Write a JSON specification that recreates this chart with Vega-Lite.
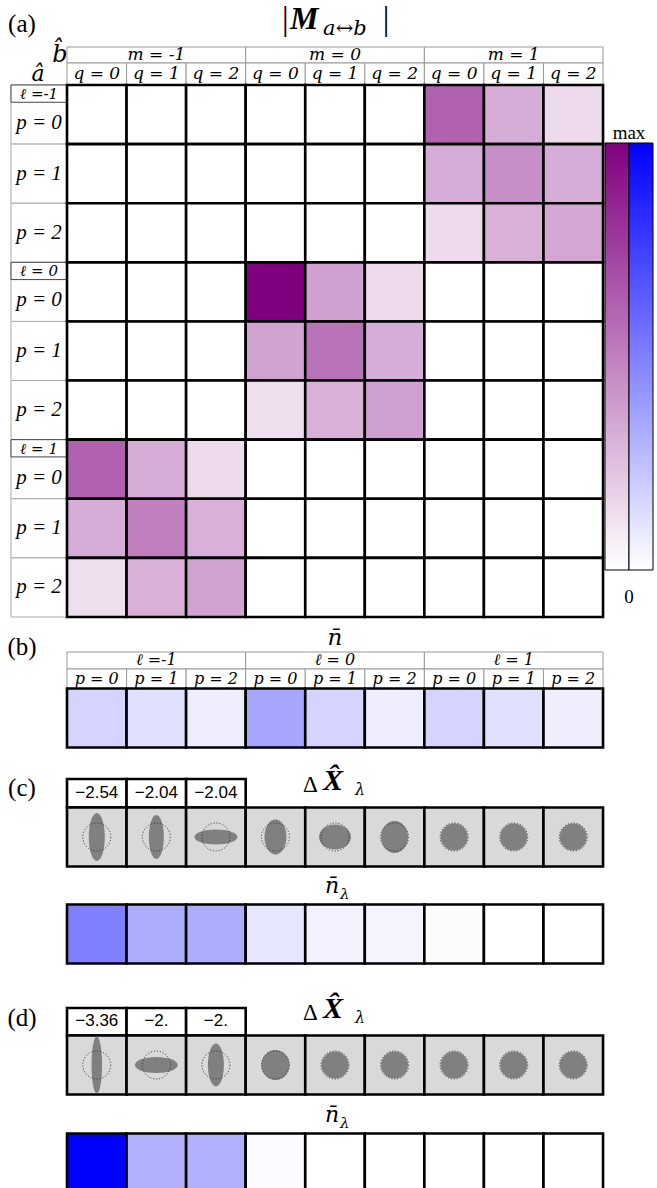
{
  "$schema": "https://vega.github.io/schema/vega-lite/v6.json",
  "padding": 0,
  "spacing": 0,
  "bounds": "flush",
  "data": {"values": [{}]},
  "config": {
    "view": {"stroke": null},
    "axis": {"disable": true},
    "text": {"font": "Liberation Serif", "color": "#000000"}
  },
  "resolve": {"scale": {"x": "independent", "y": "independent", "fill": "independent", "shape": "independent"}},
  "datasets": {
    "cellsA": [
      {"r":0,"c":0,"v":0},{"r":0,"c":1,"v":0},{"r":0,"c":2,"v":0},{"r":0,"c":3,"v":0},{"r":0,"c":4,"v":0},{"r":0,"c":5,"v":0},{"r":0,"c":6,"v":0.62},{"r":0,"c":7,"v":0.32},{"r":0,"c":8,"v":0.14},
      {"r":1,"c":0,"v":0},{"r":1,"c":1,"v":0},{"r":1,"c":2,"v":0},{"r":1,"c":3,"v":0},{"r":1,"c":4,"v":0},{"r":1,"c":5,"v":0},{"r":1,"c":6,"v":0.32},{"r":1,"c":7,"v":0.44},{"r":1,"c":8,"v":0.32},
      {"r":2,"c":0,"v":0},{"r":2,"c":1,"v":0},{"r":2,"c":2,"v":0},{"r":2,"c":3,"v":0},{"r":2,"c":4,"v":0},{"r":2,"c":5,"v":0},{"r":2,"c":6,"v":0.14},{"r":2,"c":7,"v":0.31},{"r":2,"c":8,"v":0.35},
      {"r":3,"c":0,"v":0},{"r":3,"c":1,"v":0},{"r":3,"c":2,"v":0},{"r":3,"c":3,"v":1.0},{"r":3,"c":4,"v":0.37},{"r":3,"c":5,"v":0.14},{"r":3,"c":6,"v":0},{"r":3,"c":7,"v":0},{"r":3,"c":8,"v":0},
      {"r":4,"c":0,"v":0},{"r":4,"c":1,"v":0},{"r":4,"c":2,"v":0},{"r":4,"c":3,"v":0.36},{"r":4,"c":4,"v":0.55},{"r":4,"c":5,"v":0.32},{"r":4,"c":6,"v":0},{"r":4,"c":7,"v":0},{"r":4,"c":8,"v":0},
      {"r":5,"c":0,"v":0},{"r":5,"c":1,"v":0},{"r":5,"c":2,"v":0},{"r":5,"c":3,"v":0.13},{"r":5,"c":4,"v":0.31},{"r":5,"c":5,"v":0.37},{"r":5,"c":6,"v":0},{"r":5,"c":7,"v":0},{"r":5,"c":8,"v":0},
      {"r":6,"c":0,"v":0.62},{"r":6,"c":1,"v":0.32},{"r":6,"c":2,"v":0.14},{"r":6,"c":3,"v":0},{"r":6,"c":4,"v":0},{"r":6,"c":5,"v":0},{"r":6,"c":6,"v":0},{"r":6,"c":7,"v":0},{"r":6,"c":8,"v":0},
      {"r":7,"c":0,"v":0.32},{"r":7,"c":1,"v":0.5},{"r":7,"c":2,"v":0.31},{"r":7,"c":3,"v":0},{"r":7,"c":4,"v":0},{"r":7,"c":5,"v":0},{"r":7,"c":6,"v":0},{"r":7,"c":7,"v":0},{"r":7,"c":8,"v":0},
      {"r":8,"c":0,"v":0.13},{"r":8,"c":1,"v":0.31},{"r":8,"c":2,"v":0.36},{"r":8,"c":3,"v":0},{"r":8,"c":4,"v":0},{"r":8,"c":5,"v":0},{"r":8,"c":6,"v":0},{"r":8,"c":7,"v":0},{"r":8,"c":8,"v":0}
    ],
    "mHead": [{"c":1,"t":"m = -1"},{"c":4,"t":"m = 0"},{"c":7,"t":"m = 1"}],
    "qHead": [{"c":0,"t":"q = 0"},{"c":1,"t":"q = 1"},{"c":2,"t":"q = 2"},{"c":3,"t":"q = 0"},{"c":4,"t":"q = 1"},{"c":5,"t":"q = 2"},{"c":6,"t":"q = 0"},{"c":7,"t":"q = 1"},{"c":8,"t":"q = 2"}],
    "rowsA": [{"r":0},{"r":1},{"r":2},{"r":3},{"r":4},{"r":5},{"r":6},{"r":7},{"r":8}],
    "lRows": [{"r":0,"t":"ℓ =-1"},{"r":3,"t":"ℓ = 0"},{"r":6,"t":"ℓ = 1"}],
    "pTop": [{"r":0,"t":"p = 0"},{"r":3,"t":"p = 0"},{"r":6,"t":"p = 0"}],
    "pRest": [{"r":1,"t":"p = 1"},{"r":2,"t":"p = 2"},{"r":4,"t":"p = 1"},{"r":5,"t":"p = 2"},{"r":7,"t":"p = 1"},{"r":8,"t":"p = 2"}],
    "lHead": [{"c":1,"t":"ℓ =-1"},{"c":4,"t":"ℓ = 0"},{"c":7,"t":"ℓ = 1"}],
    "pHead": [{"c":0,"t":"p = 0"},{"c":1,"t":"p = 1"},{"c":2,"t":"p = 2"},{"c":3,"t":"p = 0"},{"c":4,"t":"p = 1"},{"c":5,"t":"p = 2"},{"c":6,"t":"p = 0"},{"c":7,"t":"p = 1"},{"c":8,"t":"p = 2"}],
    "nbar": [{"c":0,"v":0.17},{"c":1,"v":0.12},{"c":2,"v":0.065},{"c":3,"v":0.35},{"c":4,"v":0.17},{"c":5,"v":0.065},{"c":6,"v":0.17},{"c":7,"v":0.12},{"c":8,"v":0.065}],
    "labC": [{"c":0,"t":"−2.54"},{"c":1,"t":"−2.04"},{"c":2,"t":"−2.04"}],
    "ellC": [{"c":0,"e":"c0"},{"c":1,"e":"c1"},{"c":2,"e":"c2"},{"c":3,"e":"c3"},{"c":4,"e":"c4"},{"c":5,"e":"c5"},{"c":6,"e":"c6"},{"c":7,"e":"c7"},{"c":8,"e":"c8"}],
    "nC": [{"c":0,"v":0.5},{"c":1,"v":0.32},{"c":2,"v":0.32},{"c":3,"v":0.1},{"c":4,"v":0.05},{"c":5,"v":0.045},{"c":6,"v":0.01},{"c":7,"v":0},{"c":8,"v":0}],
    "labD": [{"c":0,"t":"−3.36"},{"c":1,"t":"−2."},{"c":2,"t":"−2."}],
    "ellD": [{"c":0,"e":"d0"},{"c":1,"e":"d1"},{"c":2,"e":"d2"},{"c":3,"e":"d3"},{"c":4,"e":"d4"},{"c":5,"e":"d5"},{"c":6,"e":"d6"},{"c":7,"e":"d7"},{"c":8,"e":"d8"}],
    "nD": [{"c":0,"v":1.0},{"c":1,"v":0.31},{"c":2,"v":0.31},{"c":3,"v":0.02},{"c":4,"v":0},{"c":5,"v":0},{"c":6,"v":0},{"c":7,"v":0},{"c":8,"v":0}]
  },
  "vconcat": [
    {
      "width": 657, "height": 618,
      "layer": [
        {"mark": {"type": "text", "text": "(a)", "font": "Liberation Serif", "fontSize": 25, "align": "center", "baseline": "middle"},
         "encoding": {"x": {"datum": -1.256, "type": "quantitative", "scale": {"domain": [-1.625, 9.406], "nice": false, "zero": false}},
                      "y": {"datum": -1.532, "type": "quantitative", "scale": {"domain": [-1.938, 8.517], "nice": false, "zero": false, "reverse": true}}}},
        {"mark": {"type": "text", "text": "|", "font": "Liberation Serif", "fontSize": 33, "align": "left", "baseline": "alphabetic"},
         "encoding": {"x": {"datum": 3.11, "type": "quantitative"}, "y": {"datum": -1.43, "type": "quantitative"}}},
        {"mark": {"type": "text", "text": "M", "font": "Liberation Serif", "fontSize": 32, "fontWeight": "bold", "fontStyle": "italic", "align": "left", "baseline": "alphabetic"},
         "encoding": {"x": {"datum": 3.244, "type": "quantitative"}, "y": {"datum": -1.4475, "type": "quantitative"}}},
        {"mark": {"type": "text", "text": "a↔b", "font": "DejaVu Serif", "fontSize": 21, "fontStyle": "italic", "align": "left", "baseline": "alphabetic"},
         "encoding": {"x": {"datum": 3.80, "type": "quantitative"}, "y": {"datum": -1.346, "type": "quantitative"}}},
        {"mark": {"type": "text", "text": "|", "font": "Liberation Serif", "fontSize": 33, "align": "left", "baseline": "alphabetic"},
         "encoding": {"x": {"datum": 4.80, "type": "quantitative"}, "y": {"datum": -1.43, "type": "quantitative"}}},
        {"mark": {"type": "text", "text": "b̂", "font": "DejaVu Serif", "fontSize": 24, "fontStyle": "italic", "align": "center", "baseline": "alphabetic"},
         "encoding": {"x": {"datum": -0.618, "type": "quantitative"}, "y": {"datum": -0.889, "type": "quantitative"}}},
        {"mark": {"type": "text", "text": "â", "font": "DejaVu Serif", "fontSize": 22, "fontStyle": "italic", "align": "center", "baseline": "alphabetic"},
         "encoding": {"x": {"datum": -0.987, "type": "quantitative"}, "y": {"datum": -0.575, "type": "quantitative"}}},
        {"data": {"name": "mHead"},
         "mark": {"type": "rect", "fill": "#ffffff", "stroke": "#999999", "strokeWidth": 1, "xOffset": -89.34, "x2Offset": 89.34},
         "encoding": {"x": {"field": "c", "type": "quantitative"}, "x2": {"field": "c"},
                      "y": {"datum": -1.143, "type": "quantitative"}, "y2": {"datum": -0.872}}},
        {"data": {"name": "mHead"},
         "mark": {"type": "text", "font": "DejaVu Serif", "fontSize": 17, "fontStyle": "italic", "align": "center", "baseline": "middle"},
         "encoding": {"x": {"field": "c", "type": "quantitative"}, "y": {"datum": -1.008, "type": "quantitative"}, "text": {"field": "t"}}},
        {"data": {"name": "qHead"},
         "mark": {"type": "rect", "fill": "#ffffff", "stroke": "#999999", "strokeWidth": 1, "xOffset": -29.78, "x2Offset": 29.78},
         "encoding": {"x": {"field": "c", "type": "quantitative"}, "x2": {"field": "c"},
                      "y": {"datum": -0.872, "type": "quantitative"}, "y2": {"datum": -0.5}}},
        {"data": {"name": "qHead"},
         "mark": {"type": "text", "font": "DejaVu Serif", "fontSize": 17, "fontStyle": "italic", "align": "center", "baseline": "middle"},
         "encoding": {"x": {"field": "c", "type": "quantitative"}, "y": {"datum": -0.686, "type": "quantitative"}, "text": {"field": "t"}}},
        {"data": {"name": "rowsA"},
         "mark": {"type": "rect", "fill": "#ffffff", "stroke": "#aaaaaa", "strokeWidth": 1, "yOffset": -29.56, "y2Offset": 29.56},
         "encoding": {"x": {"datum": -1.44, "type": "quantitative"}, "x2": {"datum": -0.5},
                      "y": {"field": "r", "type": "quantitative"}, "y2": {"field": "r"}}},
        {"data": {"name": "lRows"},
         "mark": {"type": "rect", "fill": "#ffffff", "stroke": "#444444", "strokeWidth": 1, "yOffset": -29.56, "y2Offset": -12.3},
         "encoding": {"x": {"datum": -1.44, "type": "quantitative"}, "x2": {"datum": -0.5},
                      "y": {"field": "r", "type": "quantitative"}, "y2": {"field": "r"}}},
        {"data": {"name": "lRows"},
         "mark": {"type": "text", "font": "DejaVu Serif", "fontSize": 15, "fontStyle": "italic", "align": "center", "baseline": "middle", "dy": -20.5},
         "encoding": {"x": {"datum": -0.97, "type": "quantitative"}, "y": {"field": "r", "type": "quantitative"}, "text": {"field": "t"}}},
        {"data": {"name": "pTop"},
         "mark": {"type": "text", "font": "Liberation Serif", "fontSize": 21, "fontStyle": "italic", "align": "center", "baseline": "middle", "dy": 8.5},
         "encoding": {"x": {"datum": -0.97, "type": "quantitative"}, "y": {"field": "r", "type": "quantitative"}, "text": {"field": "t"}}},
        {"data": {"name": "pRest"},
         "mark": {"type": "text", "font": "Liberation Serif", "fontSize": 21, "fontStyle": "italic", "align": "center", "baseline": "middle"},
         "encoding": {"x": {"datum": -0.97, "type": "quantitative"}, "y": {"field": "r", "type": "quantitative"}, "text": {"field": "t"}}},
        {"data": {"name": "cellsA"},
         "mark": {"type": "rect", "stroke": "#000000", "strokeWidth": 2.6, "xOffset": -29.78, "x2Offset": 29.78, "yOffset": -29.56, "y2Offset": 29.56},
         "encoding": {"x": {"field": "c", "type": "quantitative"}, "x2": {"field": "c"},
                      "y": {"field": "r", "type": "quantitative"}, "y2": {"field": "r"},
                      "fill": {"field": "v", "type": "quantitative", "scale": {"domain": [0, 1], "range": ["#ffffff", "#800080"], "interpolate": "rgb"}, "legend": null}}},
        {"mark": {"type": "rect", "stroke": "#000000", "strokeWidth": 1,
                  "fill": {"gradient": "linear", "x1": 0, "y1": 1, "x2": 0, "y2": 0, "stops": [{"offset": 0, "color": "#ffffff"}, {"offset": 1, "color": "#800080"}]}},
         "encoding": {"x": {"datum": 8.533, "type": "quantitative"}, "x2": {"datum": 8.936}, "y": {"datum": 0.481, "type": "quantitative"}, "y2": {"datum": 7.705}}},
        {"mark": {"type": "rect", "stroke": "#000000", "strokeWidth": 1,
                  "fill": {"gradient": "linear", "x1": 0, "y1": 1, "x2": 0, "y2": 0, "stops": [{"offset": 0, "color": "#ffffff"}, {"offset": 1, "color": "#0000ff"}]}},
         "encoding": {"x": {"datum": 8.936, "type": "quantitative"}, "x2": {"datum": 9.339}, "y": {"datum": 0.481, "type": "quantitative"}, "y2": {"datum": 7.705}}},
        {"mark": {"type": "text", "text": "max", "font": "Liberation Serif", "fontSize": 19, "align": "center", "baseline": "middle"},
         "encoding": {"x": {"datum": 8.936, "type": "quantitative"}, "y": {"datum": 0.312, "type": "quantitative"}}},
        {"mark": {"type": "text", "text": "0", "font": "Liberation Serif", "fontSize": 19, "align": "center", "baseline": "middle"},
         "encoding": {"x": {"datum": 8.936, "type": "quantitative"}, "y": {"datum": 8.162, "type": "quantitative"}}}
      ]
    },
    {
      "width": 657, "height": 142,
      "layer": [
        {"mark": {"type": "text", "text": "(b)", "font": "Liberation Serif", "fontSize": 25, "align": "center", "baseline": "middle"},
         "encoding": {"x": {"datum": -1.256, "type": "quantitative", "scale": {"domain": [-1.625, 9.406], "nice": false, "zero": false}},
                      "y": {"datum": -1.201, "type": "quantitative", "scale": {"domain": [-1.6918, 0.7105], "nice": false, "zero": false, "reverse": true}}}},
        {"mark": {"type": "text", "text": "n̄", "font": "DejaVu Serif", "fontSize": 23, "fontStyle": "italic", "align": "center", "baseline": "alphabetic"},
         "encoding": {"x": {"datum": 4.0, "type": "quantitative"}, "y": {"datum": -1.235, "type": "quantitative"}}},
        {"data": {"name": "lHead"},
         "mark": {"type": "rect", "fill": "#ffffff", "stroke": "#999999", "strokeWidth": 1, "xOffset": -89.34, "x2Offset": 89.34},
         "encoding": {"x": {"field": "c", "type": "quantitative"}, "x2": {"field": "c"},
                      "y": {"datum": -1.1166, "type": "quantitative"}, "y2": {"datum": -0.829}}},
        {"data": {"name": "lHead"},
         "mark": {"type": "text", "font": "DejaVu Serif", "fontSize": 16, "fontStyle": "italic", "align": "center", "baseline": "middle"},
         "encoding": {"x": {"field": "c", "type": "quantitative"}, "y": {"datum": -0.973, "type": "quantitative"}, "text": {"field": "t"}}},
        {"data": {"name": "pHead"},
         "mark": {"type": "rect", "fill": "#ffffff", "stroke": "#999999", "strokeWidth": 1, "xOffset": -29.78, "x2Offset": 29.78},
         "encoding": {"x": {"field": "c", "type": "quantitative"}, "x2": {"field": "c"},
                      "y": {"datum": -0.829, "type": "quantitative"}, "y2": {"datum": -0.5}}},
        {"data": {"name": "pHead"},
         "mark": {"type": "text", "font": "DejaVu Serif", "fontSize": 16, "fontStyle": "italic", "align": "center", "baseline": "middle"},
         "encoding": {"x": {"field": "c", "type": "quantitative"}, "y": {"datum": -0.668, "type": "quantitative"}, "text": {"field": "t"}}},
        {"data": {"name": "nbar"},
         "mark": {"type": "rect", "stroke": "#000000", "strokeWidth": 2.6, "xOffset": -29.78, "x2Offset": 29.78},
         "encoding": {"x": {"field": "c", "type": "quantitative"}, "x2": {"field": "c"},
                      "y": {"datum": -0.5, "type": "quantitative"}, "y2": {"datum": 0.5},
                      "fill": {"field": "v", "type": "quantitative", "scale": {"domain": [0, 1], "range": ["#ffffff", "#0000ff"], "interpolate": "rgb"}, "legend": null}}}
      ]
    },
    {
      "width": 657, "height": 112,
      "layer": [
        {"mark": {"type": "text", "text": "(c)", "font": "Liberation Serif", "fontSize": 25, "align": "center", "baseline": "middle"},
         "encoding": {"x": {"datum": -1.256, "type": "quantitative", "scale": {"domain": [-1.625, 9.406], "nice": false, "zero": false}},
                      "y": {"datum": -0.829, "type": "quantitative", "scale": {"domain": [-1.3027, 0.5921], "nice": false, "zero": false, "reverse": true}}}},
        {"mark": {"type": "text", "text": "Δ", "font": "Liberation Serif", "fontSize": 23, "align": "left", "baseline": "alphabetic"},
         "encoding": {"x": {"datum": 3.462, "type": "quantitative"}, "y": {"datum": -0.761, "type": "quantitative"}}},
        {"mark": {"type": "text", "text": "X̂", "font": "Liberation Serif", "fontSize": 30, "fontWeight": "bold", "fontStyle": "italic", "align": "left", "baseline": "alphabetic"},
         "encoding": {"x": {"datum": 3.798, "type": "quantitative"}, "y": {"datum": -0.795, "type": "quantitative"}}},
        {"mark": {"type": "text", "text": "λ", "font": "DejaVu Serif", "fontSize": 16, "fontStyle": "italic", "align": "left", "baseline": "alphabetic"},
         "encoding": {"x": {"datum": 4.335, "type": "quantitative"}, "y": {"datum": -0.711, "type": "quantitative"}}},
        {"data": {"name": "labC"},
         "mark": {"type": "rect", "fill": "#ffffff", "stroke": "#000000", "strokeWidth": 2.6, "xOffset": -29.78, "x2Offset": 29.78},
         "encoding": {"x": {"field": "c", "type": "quantitative"}, "x2": {"field": "c"},
                      "y": {"datum": -0.981, "type": "quantitative"}, "y2": {"datum": -0.5}}},
        {"data": {"name": "labC"},
         "mark": {"type": "text", "font": "Liberation Sans", "fontSize": 17, "align": "center", "baseline": "middle"},
         "encoding": {"x": {"field": "c", "type": "quantitative"}, "y": {"datum": -0.744, "type": "quantitative"}, "text": {"field": "t"}}},
        {"data": {"name": "ellC"},
         "mark": {"type": "rect", "fill": "#d9d9d9", "stroke": "#000000", "strokeWidth": 2.6, "xOffset": -29.78, "x2Offset": 29.78},
         "encoding": {"x": {"field": "c", "type": "quantitative"}, "x2": {"field": "c"},
                      "y": {"datum": -0.5, "type": "quantitative"}, "y2": {"datum": 0.5}}},
        {"data": {"name": "ellC"},
         "mark": {"type": "point", "filled": true, "fill": "#808080", "opacity": 1, "size": 3600, "strokeWidth": 0},
         "encoding": {"x": {"field": "c", "type": "quantitative"}, "y": {"datum": 0, "type": "quantitative"},
                      "shape": {"field": "e", "type": "nominal", "legend": null,
                                "scale": {"domain": ["c0","c1","c2","c3","c4","c5","c6","c7","c8"],
                                          "range": ["M-0.267,0A0.267,0.8,0,1,1,0.267,0A0.267,0.8,0,1,1,-0.267,0Z",
                                                    "M-0.25,0A0.25,0.733,0,1,1,0.25,0A0.25,0.733,0,1,1,-0.25,0Z",
                                                    "M-0.717,0A0.717,0.25,0,1,1,0.717,0A0.717,0.25,0,1,1,-0.717,0Z",
                                                    "M-0.367,0A0.367,0.583,0,1,1,0.367,0A0.367,0.583,0,1,1,-0.367,0Z",
                                                    "M-0.533,0A0.533,0.417,0,1,1,0.533,0A0.533,0.417,0,1,1,-0.533,0Z",
                                                    "M-0.45,0A0.45,0.533,0,1,1,0.45,0A0.45,0.533,0,1,1,-0.45,0Z",
                                                    "M-0.45,0A0.45,0.45,0,1,1,0.45,0A0.45,0.45,0,1,1,-0.45,0Z",
                                                    "M-0.45,0A0.45,0.45,0,1,1,0.45,0A0.45,0.45,0,1,1,-0.45,0Z",
                                                    "M-0.45,0A0.45,0.45,0,1,1,0.45,0A0.45,0.45,0,1,1,-0.45,0Z"]}}}},
        {"data": {"name": "ellC"},
         "mark": {"type": "point", "shape": "circle", "filled": false, "stroke": "#333333", "strokeWidth": 0.9, "strokeDash": [1.2, 1.8], "opacity": 1, "size": 784},
         "encoding": {"x": {"field": "c", "type": "quantitative"}, "y": {"datum": 0, "type": "quantitative"}}}
      ]
    },
    {
      "width": 657, "height": 113,
      "layer": [
        {"mark": {"type": "text", "text": "n̄", "font": "DejaVu Serif", "fontSize": 22, "fontStyle": "italic", "align": "left", "baseline": "alphabetic"},
         "encoding": {"x": {"datum": 3.832, "type": "quantitative", "scale": {"domain": [-1.625, 9.406], "nice": false, "zero": false}},
                      "y": {"datum": -0.694, "type": "quantitative", "scale": {"domain": [-1.0489, 0.8628], "nice": false, "zero": false, "reverse": true}}}},
        {"mark": {"type": "text", "text": "λ", "font": "DejaVu Serif", "fontSize": 15, "fontStyle": "italic", "align": "left", "baseline": "alphabetic"},
         "encoding": {"x": {"datum": 4.085, "type": "quantitative"}, "y": {"datum": -0.592, "type": "quantitative"}}},
        {"data": {"name": "nC"},
         "mark": {"type": "rect", "stroke": "#000000", "strokeWidth": 2.6, "xOffset": -29.78, "x2Offset": 29.78},
         "encoding": {"x": {"field": "c", "type": "quantitative"}, "x2": {"field": "c"},
                      "y": {"datum": -0.5, "type": "quantitative"}, "y2": {"datum": 0.5},
                      "fill": {"field": "v", "type": "quantitative", "scale": {"domain": [0, 1], "range": ["#ffffff", "#0000ff"], "interpolate": "rgb"}, "legend": null}}}
      ]
    },
    {
      "width": 657, "height": 113,
      "layer": [
        {"mark": {"type": "text", "text": "(d)", "font": "Liberation Serif", "fontSize": 25, "align": "center", "baseline": "middle"},
         "encoding": {"x": {"datum": -1.256, "type": "quantitative", "scale": {"domain": [-1.625, 9.406], "nice": false, "zero": false}},
                      "y": {"datum": -0.795, "type": "quantitative", "scale": {"domain": [-1.3534, 0.5583], "nice": false, "zero": false, "reverse": true}}}},
        {"mark": {"type": "text", "text": "Δ", "font": "Liberation Serif", "fontSize": 23, "align": "left", "baseline": "alphabetic"},
         "encoding": {"x": {"datum": 3.462, "type": "quantitative"}, "y": {"datum": -0.761, "type": "quantitative"}}},
        {"mark": {"type": "text", "text": "X̂", "font": "Liberation Serif", "fontSize": 30, "fontWeight": "bold", "fontStyle": "italic", "align": "left", "baseline": "alphabetic"},
         "encoding": {"x": {"datum": 3.798, "type": "quantitative"}, "y": {"datum": -0.795, "type": "quantitative"}}},
        {"mark": {"type": "text", "text": "λ", "font": "DejaVu Serif", "fontSize": 16, "fontStyle": "italic", "align": "left", "baseline": "alphabetic"},
         "encoding": {"x": {"datum": 4.335, "type": "quantitative"}, "y": {"datum": -0.711, "type": "quantitative"}}},
        {"data": {"name": "labD"},
         "mark": {"type": "rect", "fill": "#ffffff", "stroke": "#000000", "strokeWidth": 2.6, "xOffset": -29.78, "x2Offset": 29.78},
         "encoding": {"x": {"field": "c", "type": "quantitative"}, "x2": {"field": "c"},
                      "y": {"datum": -0.964, "type": "quantitative"}, "y2": {"datum": -0.5}}},
        {"data": {"name": "labD"},
         "mark": {"type": "text", "font": "Liberation Sans", "fontSize": 17, "align": "center", "baseline": "middle"},
         "encoding": {"x": {"field": "c", "type": "quantitative"}, "y": {"datum": -0.744, "type": "quantitative"}, "text": {"field": "t"}}},
        {"data": {"name": "ellD"},
         "mark": {"type": "rect", "fill": "#d9d9d9", "stroke": "#000000", "strokeWidth": 2.6, "xOffset": -29.78, "x2Offset": 29.78},
         "encoding": {"x": {"field": "c", "type": "quantitative"}, "x2": {"field": "c"},
                      "y": {"datum": -0.5, "type": "quantitative"}, "y2": {"datum": 0.5}}},
        {"data": {"name": "ellD"},
         "mark": {"type": "point", "filled": true, "fill": "#808080", "opacity": 1, "size": 3600, "strokeWidth": 0},
         "encoding": {"x": {"field": "c", "type": "quantitative"}, "y": {"datum": 0, "type": "quantitative"},
                      "shape": {"field": "e", "type": "nominal", "legend": null,
                                "scale": {"domain": ["d0","d1","d2","d3","d4","d5","d6","d7","d8"],
                                          "range": ["M-0.175,0A0.175,0.95,0,1,1,0.175,0A0.175,0.95,0,1,1,-0.175,0Z",
                                                    "M-0.717,0A0.717,0.267,0,1,1,0.717,0A0.717,0.267,0,1,1,-0.717,0Z",
                                                    "M-0.267,0A0.267,0.717,0,1,1,0.267,0A0.267,0.717,0,1,1,-0.267,0Z",
                                                    "M-0.467,0A0.467,0.5,0,1,1,0.467,0A0.467,0.5,0,1,1,-0.467,0Z",
                                                    "M-0.45,0A0.45,0.45,0,1,1,0.45,0A0.45,0.45,0,1,1,-0.45,0Z",
                                                    "M-0.45,0A0.45,0.45,0,1,1,0.45,0A0.45,0.45,0,1,1,-0.45,0Z",
                                                    "M-0.45,0A0.45,0.45,0,1,1,0.45,0A0.45,0.45,0,1,1,-0.45,0Z",
                                                    "M-0.45,0A0.45,0.45,0,1,1,0.45,0A0.45,0.45,0,1,1,-0.45,0Z",
                                                    "M-0.45,0A0.45,0.45,0,1,1,0.45,0A0.45,0.45,0,1,1,-0.45,0Z"]}}}},
        {"data": {"name": "ellD"},
         "mark": {"type": "point", "shape": "circle", "filled": false, "stroke": "#333333", "strokeWidth": 0.9, "strokeDash": [1.2, 1.8], "opacity": 1, "size": 784},
         "encoding": {"x": {"field": "c", "type": "quantitative"}, "y": {"datum": 0, "type": "quantitative"}}}
      ]
    },
    {
      "width": 657, "height": 97,
      "layer": [
        {"mark": {"type": "text", "text": "n̄", "font": "DejaVu Serif", "fontSize": 22, "fontStyle": "italic", "align": "left", "baseline": "alphabetic"},
         "encoding": {"x": {"datum": 3.832, "type": "quantitative", "scale": {"domain": [-1.625, 9.406], "nice": false, "zero": false}},
                      "y": {"datum": -0.694, "type": "quantitative", "scale": {"domain": [-1.0997, 0.5414], "nice": false, "zero": false, "reverse": true}}}},
        {"mark": {"type": "text", "text": "λ", "font": "DejaVu Serif", "fontSize": 15, "fontStyle": "italic", "align": "left", "baseline": "alphabetic"},
         "encoding": {"x": {"datum": 4.085, "type": "quantitative"}, "y": {"datum": -0.592, "type": "quantitative"}}},
        {"data": {"name": "nD"},
         "mark": {"type": "rect", "stroke": "#000000", "strokeWidth": 2.6, "xOffset": -29.78, "x2Offset": 29.78},
         "encoding": {"x": {"field": "c", "type": "quantitative"}, "x2": {"field": "c"},
                      "y": {"datum": -0.5, "type": "quantitative"}, "y2": {"datum": 0.5},
                      "fill": {"field": "v", "type": "quantitative", "scale": {"domain": [0, 1], "range": ["#ffffff", "#0000ff"], "interpolate": "rgb"}, "legend": null}}}
      ]
    }
  ]
}
